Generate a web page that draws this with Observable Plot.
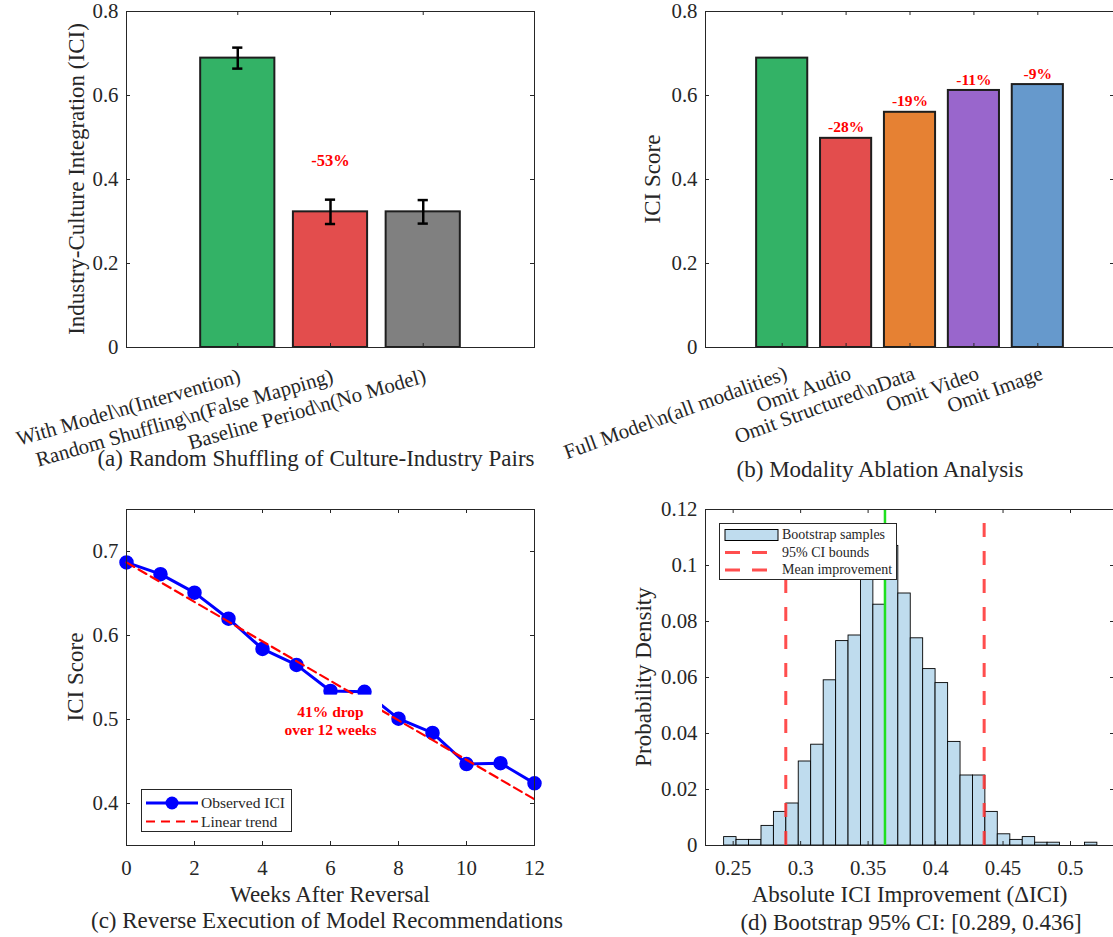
<!DOCTYPE html>
<html><head><meta charset="utf-8">
<script src="https://cdn.jsdelivr.net/npm/d3@7"></script>
<script src="https://cdn.jsdelivr.net/npm/@observablehq/plot@0.6"></script>
<style>
html,body{margin:0;padding:0;background:#fff;}
#root{position:relative;width:1113px;height:937px;overflow:hidden;font-family:'Liberation Serif','Times New Roman',serif;color:#262626;}
.pl{position:absolute;}
.t{position:absolute;white-space:nowrap;line-height:1;transform:translate(-50%,-50%);}
.ty{transform:translate(-50%,-50%) rotate(-90deg);}
.leg{position:absolute;background:#fff;border:1px solid #262626;box-sizing:border-box;}
.leg span{position:absolute;white-space:nowrap;line-height:1;transform:translateY(-50%);}
.leg svg{position:absolute;left:0;top:0;overflow:visible;}
</style></head><body><div id="root"></div>
<script>
// ---------------- data ----------------
// (a) random shuffling
const catsA = ["With Model\\n(Intervention)", "Random Shuffling\\n(False Mapping)", "Baseline Period\\n(No Model)"];
const valsA = [0.689, 0.323, 0.323];
const errsA = [0.025, 0.029, 0.028];
const colorsA = ["#33b266", "#e34d4d", "#808080"];
const dropLabelA = "-53%";
const dropPosA = 0.445;
const yTicksA = [0, 0.2, 0.4, 0.6, 0.8];

// (b) modality ablation
const catsB = ["Full Model\\n(all modalities)", "Omit Audio", "Omit Structured\\nData", "Omit Video", "Omit Image"];
const valsB = [0.689, 0.498, 0.560, 0.612, 0.626];
const pctB = ["", "-28%", "-19%", "-11%", "-9%"];
const colorsB = ["#33b266", "#e34d4d", "#e68133", "#9966cc", "#6699cc"];
const yTicksB = [0, 0.2, 0.4, 0.6, 0.8];

// (c) reverse execution
const weeksC = [0, 1, 2, 3, 4, 5, 6, 7, 8, 9, 10, 11, 12];
const iciC = [0.687, 0.673, 0.651, 0.620, 0.584, 0.565, 0.534, 0.533, 0.501, 0.484, 0.447, 0.448, 0.424];
const trendWeeksC = [0, 12];
const trendC = [0.687, 0.405];
const annC = {week: 6, ici: 0.499, text: "41% drop\nover 12 weeks"};
const xTicksC = [0, 2, 4, 6, 8, 10, 12];
const yTicksC = [0.4, 0.5, 0.6, 0.7];

// (d) bootstrap histogram
const binEdgesD = [0.2433, 0.2525, 0.2617, 0.2710, 0.2802, 0.2894, 0.2986, 0.3078, 0.3171, 0.3263,
  0.3355, 0.3447, 0.3539, 0.3632, 0.3724, 0.3816, 0.3908, 0.4000, 0.4093, 0.4185,
  0.4277, 0.4369, 0.4461, 0.4554, 0.4646, 0.4738, 0.4830, 0.4922, 0.5015, 0.5107, 0.5199];
const densD = [0.003, 0.002, 0.002, 0.007, 0.012, 0.015, 0.030, 0.036, 0.059, 0.073,
  0.075, 0.099, 0.086, 0.107, 0.090, 0.074, 0.063, 0.058, 0.037, 0.025,
  0.025, 0.012, 0.004, 0.002, 0.003, 0.001, 0.001, 0, 0, 0.001];
const ciD = [0.289, 0.436];
const meanD = [0.3625];
const xTicksD = [0.25, 0.3, 0.35, 0.4, 0.45, 0.5];
const yTicksD = [0, 0.02, 0.04, 0.06, 0.08, 0.1, 0.12];

// ---------------- helpers ----------------
const FONT = "'Liberation Serif','Times New Roman',serif";
const TICK_FS = 20.8, LABEL_FS = 23;
const INK = "#262626";
const root = document.getElementById("root");

function place(node, left, top) {
  node.classList.add("pl");
  node.style.left = left + "px";
  node.style.top = top + "px";
  root.appendChild(node);
}
function label(txt, cx, cy, size, rot) {
  const d = document.createElement("div");
  d.className = "t" + (rot ? " ty" : "");
  d.textContent = txt;
  d.style.left = cx + "px";
  d.style.top = cy + "px";
  d.style.fontSize = size + "px";
  root.appendChild(d);
}
function inward(xT, yT, fw, fh, len = 4) {
  const o = {stroke: INK, strokeWidth: 1};
  const m = [];
  if (xT) m.push(
    Plot.ruleX(xT, {x: d => d, insetTop: fh - len, ...o}),
    Plot.ruleX(xT, {x: d => d, insetBottom: fh - len, ...o}));
  if (yT) m.push(
    Plot.ruleY(yT, {y: d => d, insetRight: fw - len, ...o}),
    Plot.ruleY(yT, {y: d => d, insetLeft: fw - len, ...o}));
  return m;
}
const style = {fontFamily: FONT, fontSize: TICK_FS + "px", color: INK, background: "transparent", overflow: "visible"};
const fmt = d => String(d);

// ---------------- (a) ----------------
{
  const data = catsA.map((c, k) => ({i: k + 1, label: c, v: valsA[k], e: errsA[k], c: colorsA[k]}));
  const W = 556, H = 480, mL = 126, mR = 22, mT = 11, mB = 133;
  const fw = W - mL - mR, fh = H - mT - mB;
  const p = Plot.plot({
    width: W, height: H, marginLeft: mL, marginRight: mR, marginTop: mT, marginBottom: mB,
    x: {domain: [-0.2, 4.2], axis: null},
    y: {domain: [0, 0.8]},
    color: {type: "identity"},
    style,
    marks: [
      Plot.rect(data, {x1: d => d.i - 0.4, x2: d => d.i + 0.4, y1: 0, y2: "v", fill: "c", stroke: "#1e1e1e", strokeWidth: 2}),
      Plot.ruleX(data, {x: "i", y1: d => d.v - d.e, y2: d => d.v + d.e, stroke: "#000", strokeWidth: 2.5}),
      Plot.ruleY(data, {y: d => d.v + d.e, x1: d => d.i - 0.055, x2: d => d.i + 0.055, stroke: "#000", strokeWidth: 2.5}),
      Plot.ruleY(data, {y: d => d.v - d.e, x1: d => d.i - 0.055, x2: d => d.i + 0.055, stroke: "#000", strokeWidth: 2.5}),
      Plot.text([dropLabelA], {x: 2, y: dropPosA, text: d => d, fill: "#ff0000", fontWeight: "bold", fontSize: 16.5}),
      Plot.frame({stroke: INK, strokeWidth: 1}),
      ...inward([1, 2, 3], yTicksA, fw, fh),
      Plot.axisY(yTicksA, {tickSize: 0, tickPadding: 8, tickFormat: fmt, fontSize: TICK_FS, label: null}),
      Plot.text(data, {x: "i", text: "label", frameAnchor: "bottom", textAnchor: "end", lineAnchor: "middle",
        rotate: -16, dx: 2, dy: 28, fontSize: TICK_FS, fill: INK})
    ]
  });
  place(p, 0, 0);
  label("Industry-Culture Integration (ICI)", 76, 179, LABEL_FS, true);
  label("(a) Random Shuffling of Culture-Industry Pairs", 316, 458, LABEL_FS);
}

// ---------------- (b) ----------------
{
  const data = catsB.map((c, k) => ({i: k + 1, label: c, v: valsB[k], pct: pctB[k], c: colorsB[k]}));
  const W = 560, H = 480, mL = 149, mR = 2, mT = 11, mB = 133;
  const fw = W - mL - mR, fh = H - mT - mB;
  const p = Plot.plot({
    width: W, height: H, marginLeft: mL, marginRight: mR, marginTop: mT, marginBottom: mB,
    x: {domain: [-0.2, 6.2], axis: null},
    y: {domain: [0, 0.8]},
    color: {type: "identity"},
    style,
    marks: [
      Plot.rect(data, {x1: d => d.i - 0.4, x2: d => d.i + 0.4, y1: 0, y2: "v", fill: "c", stroke: "#1e1e1e", strokeWidth: 2}),
      Plot.text(data.filter(d => d.pct), {x: "i", y: d => d.v + 0.026, text: "pct", fill: "#ff0000", fontWeight: "bold", fontSize: 15.5}),
      Plot.frame({stroke: INK, strokeWidth: 1}),
      ...inward([1, 2, 3, 4, 5], yTicksB, fw, fh),
      Plot.axisY(yTicksB, {tickSize: 0, tickPadding: 8, tickFormat: fmt, fontSize: TICK_FS, label: null}),
      Plot.text(data, {x: "i", text: "label", frameAnchor: "bottom", textAnchor: "end", lineAnchor: "middle",
        rotate: -20, dx: 4, dy: 25, fontSize: TICK_FS, fill: INK})
    ]
  });
  place(p, 556, 0);
  label("ICI Score", 652, 179, LABEL_FS, true);
  label("(b) Modality Ablation Analysis", 880, 469, LABEL_FS);
}

// ---------------- (c) ----------------
{
  const obs = weeksC.map((w, k) => ({w, v: iciC[k]}));
  const trend = trendWeeksC.map((w, k) => ({w, v: trendC[k]}));
  const W = 556, H = 457, mL = 126, mR = 22, mT = 29, mB = 92;
  const fw = W - mL - mR, fh = H - mT - mB;
  const p = Plot.plot({
    width: W, height: H, marginLeft: mL, marginRight: mR, marginTop: mT, marginBottom: mB,
    x: {domain: [0, 12]},
    y: {domain: [0.35, 0.75]},
    style,
    marks: [
      Plot.line(obs, {x: "w", y: "v", stroke: "#0000ff", strokeWidth: 3}),
      Plot.dot(obs, {x: "w", y: "v", r: 6.5, fill: "#0000ff", stroke: "#0000ff"}),
      Plot.line(trend, {x: "w", y: "v", stroke: "#ff0000", strokeWidth: 2.2, strokeDasharray: "9,5"}),
      Plot.rect([annC], {x1: d => d.week - 1.53, x2: d => d.week + 1.53, y1: d => d.ici - 0.03, y2: d => d.ici + 0.03, fill: "#fff"}),
      Plot.text([annC], {x: "week", y: "ici", text: "text", fill: "#ff0000", fontWeight: "bold", fontSize: 15.5, lineHeight: 1.18}),
      Plot.frame({stroke: INK, strokeWidth: 1}),
      ...inward(xTicksC, yTicksC, fw, fh),
      Plot.axisY(yTicksC, {tickSize: 0, tickPadding: 8, tickFormat: fmt, fontSize: TICK_FS, label: null}),
      Plot.axisX(xTicksC, {tickSize: 0, tickPadding: 15, tickFormat: fmt, fontSize: TICK_FS, label: null})
    ]
  });
  place(p, 0, 480);
  label("ICI Score", 75, 677, LABEL_FS, true);
  label("Weeks After Reversal", 330, 894, LABEL_FS);
  label("(c) Reverse Execution of Model Recommendations", 327, 919.5, LABEL_FS);
  // legend
  const lg = document.createElement("div");
  lg.className = "leg";
  Object.assign(lg.style, {left: "141px", top: "789px", width: "151px", height: "43px", fontSize: "15.5px"});
  lg.innerHTML = `<svg width="151" height="43">
    <line x1="4" x2="56" y1="13" y2="13" stroke="#0000ff" stroke-width="3"/>
    <circle cx="30" cy="13" r="6.5" fill="#0000ff"/>
    <line x1="4" x2="56" y1="31.5" y2="31.5" stroke="#ff0000" stroke-width="2.2" stroke-dasharray="9,6"/>
  </svg><span style="left:59px;top:13px">Observed ICI</span><span style="left:59px;top:31.5px">Linear trend</span>`;
  root.appendChild(lg);
}

// ---------------- (d) ----------------
{
  const bins = densD.map((h, k) => ({lo: binEdgesD[k], hi: binEdgesD[k + 1], h})).filter(d => d.h > 0);
  const yTop = d3.max(yTicksD);
  const W = 560, H = 457, mL = 149, mR = 2, mT = 29, mB = 92;
  const fw = W - mL - mR, fh = H - mT - mB;
  const p = Plot.plot({
    width: W, height: H, marginLeft: mL, marginRight: mR, marginTop: mT, marginBottom: mB,
    x: {domain: [0.2295, 0.5326]},
    y: {domain: [0, yTop]},
    style,
    marks: [
      Plot.rect(bins, {x1: "lo", x2: "hi", y1: 0, y2: "h", fill: "#bfdcee", stroke: "#000", strokeWidth: 0.9}),
      Plot.ruleX(ciD, {x: d => d, y1: 0, y2: yTop, stroke: "#ff3535", strokeOpacity: 0.88, strokeWidth: 3, strokeDasharray: "14,14"}),
      Plot.ruleX(meanD, {x: d => d, y1: 0, y2: yTop, stroke: "#1fe01f", strokeWidth: 2.5}),
      Plot.frame({stroke: INK, strokeWidth: 1}),
      ...inward(xTicksD, yTicksD, fw, fh),
      Plot.axisY(yTicksD, {tickSize: 0, tickPadding: 8, tickFormat: fmt, fontSize: TICK_FS, label: null}),
      Plot.axisX(xTicksD, {tickSize: 0, tickPadding: 15, tickFormat: fmt, fontSize: TICK_FS, label: null})
    ]
  });
  place(p, 556, 480);
  label("Probability Density", 643, 677, LABEL_FS, true);
  label("Absolute ICI Improvement (\u0394ICI)", 909.5, 894, LABEL_FS);
  label("(d) Bootstrap 95% CI: [0.289, 0.436]", 911, 922, LABEL_FS);
  const lg = document.createElement("div");
  lg.className = "leg";
  Object.assign(lg.style, {left: "719px", top: "523px", width: "178px", height: "57px", fontSize: "14px"});
  lg.innerHTML = `<svg width="178" height="57">
    <rect x="5" y="5.5" width="53" height="11" fill="#bfdcee" stroke="#000" stroke-width="1"/>
    <line x1="5" x2="58" y1="28.5" y2="28.5" stroke="#ff3535" stroke-opacity="0.88" stroke-width="3" stroke-dasharray="15,12"/>
    <line x1="5" x2="58" y1="46" y2="46" stroke="#ff3535" stroke-opacity="0.88" stroke-width="3" stroke-dasharray="15,12"/>
  </svg><span style="left:62px;top:11px">Bootstrap samples</span><span style="left:62px;top:28.5px">95% CI bounds</span><span style="left:62px;top:46px">Mean improvement</span>`;
  root.appendChild(lg);
}
</script></body></html>
